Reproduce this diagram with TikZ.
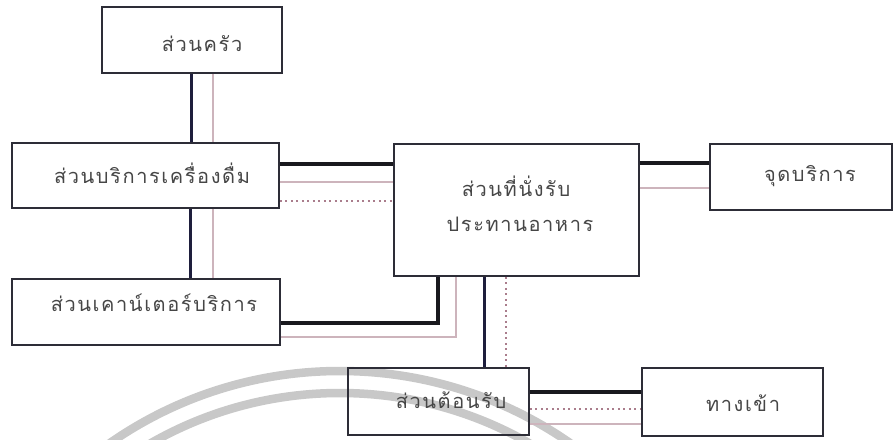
\documentclass[tikz,border=0pt]{standalone}
\usepackage{fontspec}
\newfontfamily\thaifont[Script=Thai,LetterSpace=8]{Loma}
\definecolor{boxline}{RGB}{45,45,55}
\definecolor{heavy}{RGB}{25,25,30}
\definecolor{navy}{RGB}{30,30,60}
\definecolor{pale}{RGB}{205,180,188}
\definecolor{dotc}{RGB}{170,125,140}
\definecolor{wm}{RGB}{200,200,200}
\definecolor{txt}{RGB}{70,70,70}
\tikzset{
  box/.style={draw=boxline, line width=1.5pt, rectangle, inner sep=0pt},
  lbl/.style={font=\thaifont\fontsize{20}{24}\selectfont, text=txt, inner sep=0pt, align=center},
  heavyline/.style={draw=heavy, line width=4.5pt},
  navyline/.style={draw=navy, line width=3pt},
  paleline/.style={draw=pale, line width=1.5pt},
  dotline/.style={draw=dotc, line width=2pt, dash pattern=on 2pt off 3.5pt},
  wmarc/.style={draw=wm, line width=8.5pt}
}
\begin{document}
\begin{tikzpicture}[x=1pt,y=-1pt]
\fill[white] (0,0) rectangle (893,439);
\useasboundingbox (0,0) rectangle (893,439);
% watermark arcs
\begin{scope}
\clip (0,0) rectangle (893,439);
\draw[wmarc] (340,774) circle[radius=403];
\draw[wmarc] (340,774) circle[radius=381];
\end{scope}
% boxes
\node[box, minimum width=180pt, minimum height=66pt] (kitchen) at (192,40) {};
\node[box, minimum width=267pt, minimum height=65pt] (bev) at (145.5,175.5) {};
\node[box, minimum width=268pt, minimum height=66pt] (counter) at (146,312) {};
\node[box, minimum width=245pt, minimum height=132pt] (dine) at (516.5,210) {};
\node[box, minimum width=182pt, minimum height=66pt] (point) at (801,177) {};
\node[box, minimum width=181pt, minimum height=67pt] (recep) at (438.5,401.5) {};
\node[box, minimum width=181pt, minimum height=68pt] (entry) at (732.5,402) {};
% labels
\node[lbl] (kitchenl) at (202,44) {ส่วนครัว};
\node[lbl] (bevl) at (152,173) {ส่วนบริการเครื่องดื่ม};
\node[lbl] (counterl) at (154,303) {ส่วนเคาน์เตอร์บริการ};
\node[lbl] (dinel1) at (516,186) {ส่วนที่นั่งรับ};
\node[lbl] (dinel2) at (520,224) {ประทานอาหาร};
\node[lbl] (pointl) at (810,176) {จุดบริการ};
\node[lbl] (recepl) at (451,400) {ส่วนต้อนรับ};
\node[lbl] (entryl) at (743,403) {ทางเข้า};
% kitchen - beverage
\draw[navyline] (kitchen.south -| 191,0) -- (bev.north -| 191,0);
\draw[paleline] (kitchen.south -| 213,0) -- (bev.north -| 213,0);
% beverage - counter
\draw[navyline] (bev.south -| 190,0) -- (counter.north -| 190,0);
\draw[paleline] (bev.south -| 213,0) -- (counter.north -| 213,0);
% beverage - dining
\draw[heavyline] (bev.east |- 0,164) -- (dine.west |- 0,164);
\draw[paleline] (bev.east |- 0,182) -- (dine.west |- 0,182);
\draw[dotline] (bev.east |- 0,201) -- (dine.west |- 0,201);
% dining - service point
\draw[heavyline] (dine.east |- 0,163) -- (point.west |- 0,163);
\draw[paleline] (dine.east |- 0,188) -- (point.west |- 0,188);
% counter - dining
\draw[heavyline] (counter.east |- 0,323) -| (dine.south -| 438,0);
\draw[paleline] (counter.east |- 0,337) -| (dine.south -| 456,0);
% dining - reception
\draw[navyline] (dine.south -| 484,0) -- (recep.north -| 484,0);
\draw[dotline] (dine.south -| 506,0) -- (recep.north -| 506,0);
% reception - entrance
\draw[heavyline] (recep.east |- 0,392) -- (entry.west |- 0,392);
\draw[dotline] (recep.east |- 0,409) -- (entry.west |- 0,409);
\draw[paleline] (recep.east |- 0,424) -- (entry.west |- 0,424);
\end{tikzpicture}
\end{document}
